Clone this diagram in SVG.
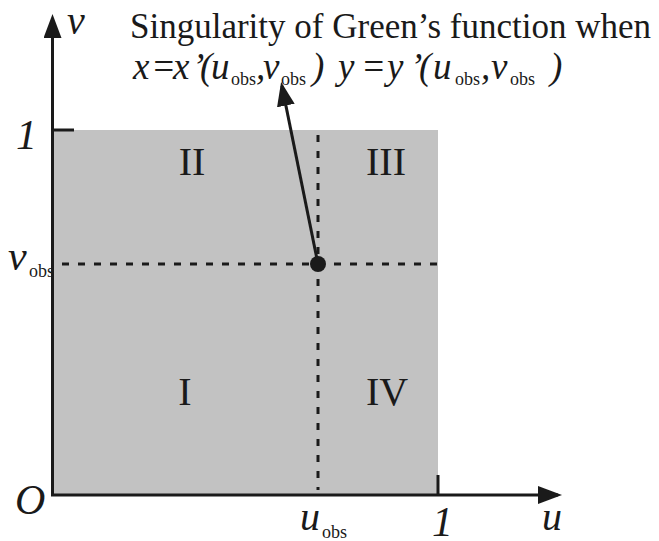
<svg xmlns="http://www.w3.org/2000/svg" width="659" height="541" viewBox="0 0 659 541" font-family="'Liberation Serif', 'DejaVu Serif', serif">
<style>
text{font-family:'Liberation Serif','DejaVu Serif',serif;fill:#1a1a1a}
.it{font-style:italic}
.big{font-size:40px}
.roman{font-size:40px;text-anchor:middle}
.sub{font-size:18px;font-style:normal}
.ln{stroke:#1a1a1a;stroke-width:3;fill:none}
.dash{stroke:#1a1a1a;stroke-width:3;stroke-dasharray:7 9;fill:none}
</style>
<defs>
<marker id="ah" viewBox="0 0 24 18" markerWidth="24" markerHeight="18" refX="20" refY="9" orient="auto" markerUnits="userSpaceOnUse">
<path d="M0,0 L24,9 L0,18 Z" fill="#1a1a1a"/>
</marker>
</defs>
<g id="region">
<rect x="53" y="130" width="385" height="365" fill="#c2c2c2"/>
</g>
<g id="connectors">
<line class="dash" x1="62" y1="264" x2="438" y2="264"/>
<line class="dash" x1="318" y1="135" x2="318" y2="490"/>
<line class="ln" x1="52.5" y1="495" x2="52.5" y2="18" marker-end="url(#ah)"/>
<line class="ln" x1="51" y1="495" x2="558" y2="495" marker-end="url(#ah)"/>
<line class="ln" x1="52" y1="130" x2="74" y2="130"/>
<line class="ln" x1="438" y1="475" x2="438" y2="495"/>
<line class="ln" x1="318" y1="264" x2="281.9" y2="85.9" marker-end="url(#ah)"/>
</g>
<g id="obs-point">
<circle cx="318" cy="264" r="8" fill="#1a1a1a"/>
</g>
<g id="labels">
<text class="roman" x="192" y="175">II</text>
<text class="roman" x="386" y="175">III</text>
<text class="roman" x="185" y="405">I</text>
<text class="roman" x="387" y="405">IV</text>
</g>
<g id="axis-labels">
<text class="it big" x="67" y="34">v</text>
<text class="it" font-size="42" x="16" y="149">1</text>
<text class="it" font-size="42" x="15" y="514">O</text>
<text class="it" font-size="42" x="432" y="536">1</text>
<text class="it big" x="542" y="530">u</text>
<text class="it big" x="300" y="530">u<tspan class="sub" x="322" y="538">obs</tspan></text>
<text class="it" font-size="42" x="8" y="270">v<tspan class="sub" font-size="16" x="29" y="277">obs</tspan></text>
</g>
<g id="caption">
<text font-size="35" x="130" y="38">Singularity of Green’s function when</text>
<text class="it" font-size="37" y="79"><tspan x="133">x</tspan><tspan x="151">=</tspan><tspan x="173">x</tspan><tspan x="192">’</tspan><tspan x="200">(</tspan><tspan x="211">u</tspan><tspan class="sub" x="231" y="85">obs</tspan><tspan x="256" y="79">,</tspan><tspan x="263">v</tspan><tspan class="sub" x="281" y="85">obs</tspan><tspan x="312" y="79">)</tspan><tspan x="338">y</tspan><tspan x="361">=</tspan><tspan x="387">y</tspan><tspan x="410">’</tspan><tspan x="419">(</tspan><tspan x="433">u</tspan><tspan class="sub" x="455" y="85">obs</tspan><tspan x="481" y="79">,</tspan><tspan x="491">v</tspan><tspan class="sub" x="510" y="85">obs</tspan><tspan x="550" y="79">)</tspan></text>
</g>
</svg>
